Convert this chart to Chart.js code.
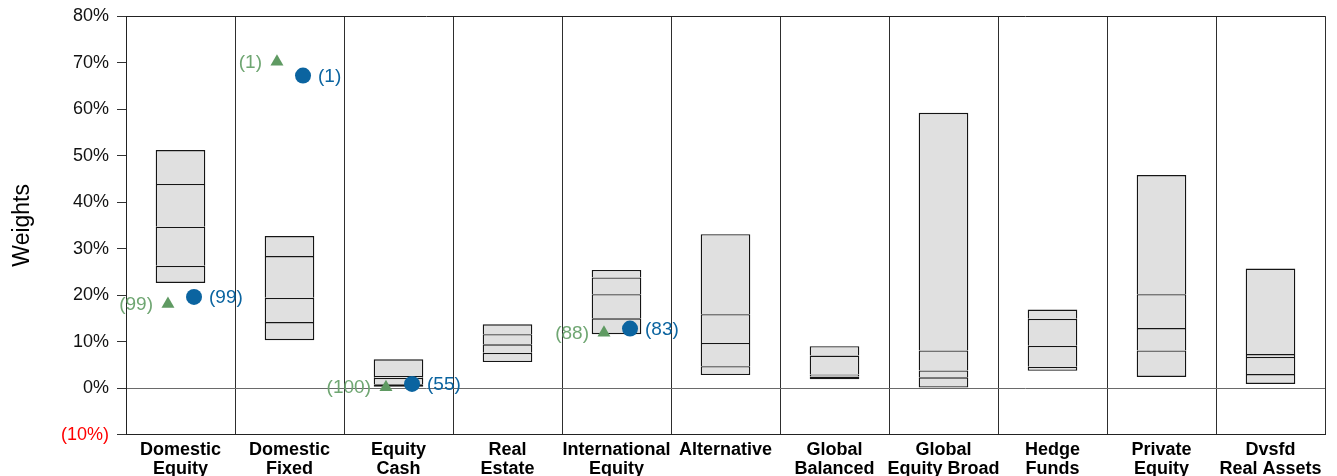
<!DOCTYPE html>
<html>
<head>
<meta charset="utf-8">
<script src="https://cdn.jsdelivr.net/npm/chart.js@4/dist/chart.umd.min.js"></script>
<style>
  html, body { margin: 0; padding: 0; background: #fff; overflow: hidden; }
  #wrap { width: 1337px; height: 476px; position: relative; }
</style>
</head>
<body>
<div id="wrap"><canvas id="chart"></canvas></div>
<script>
// Asset classes along the x axis
const categories = [
  ['Domestic', 'Equity'], ['Domestic', 'Fixed'], ['Equity', 'Cash'], ['Real', 'Estate'],
  ['International', 'Equity'], ['Alternative'], ['Global', 'Balanced'], ['Global', 'Equity Broad'],
  ['Hedge', 'Funds'], ['Private', 'Equity'], ['Dvsfd', 'Real Assets']
];

// Peer-group weight distribution (%), from the bottom of each box to its top
const p5  = [22.6, 10.3, 0.3,  5.6, 11.6,  2.8, 1.9,  0.0,  3.7,  2.4,  0.9];
const p25 = [26.3, 14.2, 0.8,  7.6, 15.0,  4.7, 2.5,  2.3,  4.6,  8.1,  3.0];
const p50 = [34.7, 19.4, 2.2,  9.4, 20.2,  9.7, 2.9,  3.8,  9.1, 12.9,  6.7];
const p75 = [43.9, 28.4, 2.6, 11.6, 23.8, 15.9, 7.0,  8.1, 14.9, 20.2,  7.3];
const p95 = [51.2, 32.7, 6.2, 13.7, 25.4, 33.1, 9.0, 59.2, 16.9, 45.8, 25.7];

// Policy target (triangle) and actual allocation (circle), with their percentile ranks
const policyWeights = [18.1, 70.2, 0.2, null, 11.9, null, null, null, null, null, null];
const policyRanks   = [99, 1, 100, null, 88, null, null, null, null, null, null];
const actualWeights = [19.6, 67.2, 0.9, null, 12.8, null, null, null, null, null, null];
const actualRanks   = [99, 1, 55, null, 83, null, null, null, null, null, null];

// Y axis range and step (%)
const yMin = -10, yMax = 80, yStep = 10;

const BOX_FILL = '#e0e0e0';
const BOX_LINE = '#151515';
const BOX_EDGE = 1.4;
const GREEN = '#5f9a62';
const GREEN_TEXT = '#6fa672';
const BLUE = '#0b64a0';
const TRI_OFFSET = -0.115;
const DOT_OFFSET = 0.124;
const FONT = '"Liberation Sans", Arial, sans-serif';

const segment = (lo, hi) => lo.map((v, i) => [v, hi[i]]);
// Each box is four floating bars stacked visually; each segment draws its own top edge,
// so the shared boundaries show up as single inner lines
const boxSegment = (data, isLowest) => ({
  type: 'bar',
  data,
  grouped: false,
  backgroundColor: BOX_FILL,
  borderColor: BOX_LINE,
  borderWidth: { top: BOX_EDGE, left: BOX_EDGE, right: BOX_EDGE, bottom: isLowest ? BOX_EDGE : 0 },
  borderSkipped: false,
  categoryPercentage: 1,
  barPercentage: 0.455,
  order: 2
});
// Marker points sit on the hidden linear x axis, nudged left or right of the category centre
const markerPoints = (vals, off) => vals.map((v, i) => ({ x: i + off, y: v }));

// Rank labels drawn beside each marker
const rankLabels = {
  id: 'rankLabels',
  afterDatasetsDraw(chart) {
    const ctx = chart.ctx;
    ctx.save();
    ctx.font = '19px ' + FONT;
    ctx.textBaseline = 'middle';
    chart.data.datasets.forEach((ds, di) => {
      if (!ds.ranks) return;
      const meta = chart.getDatasetMeta(di);
      meta.data.forEach((pt, i) => {
        const r = ds.ranks[i];
        if (r === null || r === undefined || pt.skip || !isFinite(pt.y)) return;
        ctx.fillStyle = ds.rankColor;
        ctx.textAlign = ds.rankSide === 'left' ? 'right' : 'left';
        const dx = ds.rankSide === 'left' ? -15 : 15;
        ctx.fillText('(' + r + ')', pt.x + dx, pt.y + 1);
      });
    });
    ctx.restore();
  }
};

const chart = new Chart(document.getElementById('chart'), {
  type: 'bar',
  data: {
    labels: categories,
    datasets: [
      boxSegment(segment(p5, p25), true),
      boxSegment(segment(p25, p50), false),
      boxSegment(segment(p50, p75), false),
      boxSegment(segment(p75, p95), false),
      {
        type: 'scatter',
        xAxisID: 'xm',
        data: markerPoints(policyWeights, TRI_OFFSET),
        pointStyle: 'triangle',
        pointRadius: 7.5,
        backgroundColor: GREEN,
        borderColor: GREEN,
        borderWidth: 0,
        showLine: false,
        ranks: policyRanks,
        rankColor: GREEN_TEXT,
        rankSide: 'left',
        order: 1
      },
      {
        type: 'scatter',
        xAxisID: 'xm',
        data: markerPoints(actualWeights, DOT_OFFSET),
        pointStyle: 'circle',
        pointRadius: 8,
        backgroundColor: BLUE,
        borderColor: BLUE,
        borderWidth: 0,
        showLine: false,
        ranks: actualRanks,
        rankColor: BLUE,
        rankSide: 'right',
        order: 0
      }
    ]
  },
  options: {
    responsive: true,
    maintainAspectRatio: false,
    animation: false,
    layout: { padding: { top: 16, right: 12, left: 0, bottom: -8 } },
    plugins: {
      legend: { display: false },
      tooltip: { enabled: false }
    },
    scales: {
      x: {
        type: 'category',
        offset: true,
        grid: {
          offset: true,
          color: '#2e2e2e',
          lineWidth: 1,
          drawTicks: false
        },
        border: { display: true, color: '#222', width: 1 },
        ticks: {
          color: '#000',
          padding: 6,
          maxRotation: 0,
          autoSkip: false,
          font: { family: FONT, size: 18, weight: 'bold', lineHeight: 1.04 }
        }
      },
      xm: {
        type: 'linear',
        display: false,
        offset: false,
        grid: { offset: false },
        beginAtZero: false,
        grace: 0,
        min: -0.5,
        max: categories.length - 0.5
      },
      y: {
        min: yMin,
        max: yMax,
        afterFit(scale) { scale.width = 126; },
        grid: {
          color: (c) => {
            const v = c.tick ? c.tick.value : null;
            if (v === 0) return '#6a6a6a';
            if (v === yMax || v === yMin) return '#222';
            return 'rgba(0,0,0,0)';
          },
          tickColor: '#333',
          tickLength: 9,
          lineWidth: 1
        },
        border: { display: true, color: '#222', width: 1 },
        ticks: {
          stepSize: yStep,
          padding: 8,
          color: (c) => c.tick && c.tick.value < 0 ? '#ff0000' : '#111',
          font: { family: FONT, size: 18, lineHeight: 0.9 },
          callback: (v) => v < 0 ? '(' + Math.abs(v) + '%)' : v + '%'
        },
        title: {
          display: true,
          text: 'Weights',
          color: '#000',
          padding: { top: 9, bottom: 0 },
          font: { family: FONT, size: 23 }
        }
      }
    }
  },
  plugins: [rankLabels]
});
</script>
</body>
</html>
